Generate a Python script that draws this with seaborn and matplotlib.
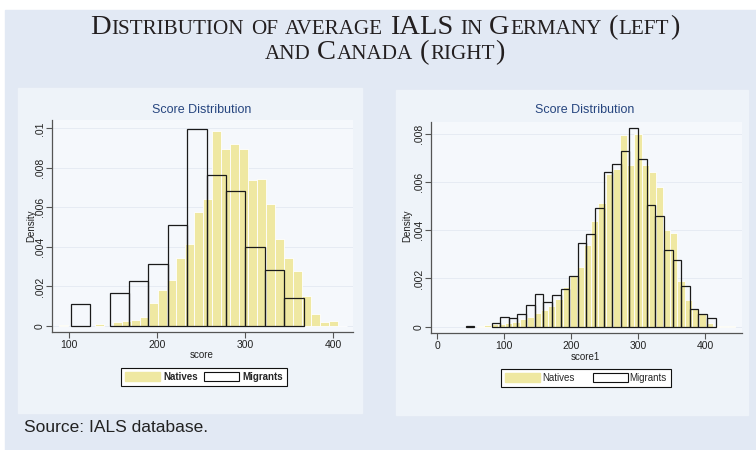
import re
import numpy as np
import pandas as pd
import seaborn as sns
import matplotlib.pyplot as plt
from matplotlib.patches import Patch, Rectangle

# Germany (left panel): densities per bin
de_nat_start, de_nat_width = 88.6, 10.2
de_natives = [0.00005, 0, 0, 0, 0.0001, 0, 0.0002, 0.00025, 0.0003, 0.00046,
              0.00115, 0.00183, 0.00234, 0.00345, 0.00416, 0.00577, 0.00641,
              0.00985, 0.00894, 0.00919, 0.00897, 0.00738, 0.00743, 0.00616,
              0.0044, 0.00345, 0.00279, 0.00154, 0.00059, 0.00022, 0.00027, 0.00002]
de_mig_start, de_mig_width = 102.3, 22.0
de_migrants = [0.00113, 0, 0.00169, 0.00228, 0.00312, 0.00511, 0.00995,
               0.00766, 0.00681, 0.00398, 0.00283, 0.0014]

# Canada (right panel)
ca_nat_start, ca_nat_width = 58.7, 10.7
ca_natives = [0.00003, 0.00007, 0.0001, 0.00012, 0.00014, 0.00018, 0.0003,
              0.00042, 0.00055, 0.00068, 0.00085, 0.00115, 0.00165, 0.00212,
              0.00246, 0.0034, 0.0044, 0.00512, 0.00634, 0.00655, 0.00793,
              0.00669, 0.008, 0.00669, 0.00641, 0.00581, 0.004, 0.00387,
              0.0019, 0.00112, 0.00075, 0.00052, 0.00015, 0.00004, 0.00002, 0.00002]
ca_mig_start, ca_mig_width = 42.5, 12.86
ca_migrants = [0.00002, 0, 0, 0.00017, 0.0004, 0.00037, 0.00053, 0.00091,
               0.00136, 0.00101, 0.00131, 0.00156, 0.0021, 0.00347, 0.00386,
               0.00494, 0.00641, 0.00673, 0.00728, 0.00825, 0.00696, 0.00505,
               0.0046, 0.00317, 0.00275, 0.00167, 0.00073, 0.00053, 0.00037]

de_xticks = [100, 200, 300, 400]
de_yticks = [0, .002, .004, .006, .008, .01]
de_ylabels = ['0', '.002', '.004', '.006', '.008', '.01']
ca_xticks = [0, 100, 200, 300, 400]
ca_yticks = [0, .002, .004, .006, .008]
ca_ylabels = ['0', '.002', '.004', '.006', '.008']

W, H = 756, 450
YELLOW = '#efe8a2'
OUTER = '#e2e9f4'
PANEL = '#eef3f9'
PLOT = '#f5f8fc'
NARROW = ['Liberation Sans Narrow', 'Liberation Sans', 'DejaVu Sans']

sns.set_style('white')
plt.rcParams['font.family'] = NARROW

fig = plt.figure(figsize=(W / 100, H / 100), dpi=100)
fig.patch.set_facecolor('white')


def fx(x):
    return x / W


def fy(y):
    return 1 - y / H


def box(x0, y0, x1, y1, color):
    fig.add_artist(Rectangle((fx(x0), fy(y1)), fx(x1 - x0), (y1 - y0) / H,
                             transform=fig.transFigure, color=color, zorder=-5))


box(5, 10, W, H, OUTER)
box(18, 88, 362, 413, PANEL)
box(396, 90, 748, 415, PANEL)


def hist(ax, start, width, heights, **kw):
    edges = start + width * np.arange(len(heights) + 1)
    df = pd.DataFrame({'x': edges[:-1] + width / 2, 'w': heights})
    n = len(ax.patches)
    sns.histplot(data=df, x='x', weights='w', bins=list(edges), ax=ax, **kw)
    for p in ax.patches[n:]:
        if p.get_height() == 0:
            p.set_visible(False)


def panel(rect, nat, mig, xticks, yticks, ylabels, xlim, ylim):
    x0, y0, x1, y1 = rect
    ax = fig.add_axes([fx(x0), fy(y1), (x1 - x0) / W, (y1 - y0) / H])
    ax.set_facecolor(PLOT)
    hist(ax, *nat, color=YELLOW, edgecolor='white', linewidth=0.6, alpha=1)
    hist(ax, *mig, fill=False, color='#1a1a1a', linewidth=0.9)
    ax.set_xlim(*xlim)
    ax.set_ylim(*ylim)
    ax.set_xticks(xticks)
    ax.set_xticklabels([str(t) for t in xticks])
    ax.set_yticks(yticks)
    ax.set_yticklabels(ylabels, rotation=90, va='center')
    ax.tick_params(length=4, width=0.8, color='#555555', labelsize=7.5,
                   labelcolor='#222222', pad=1.5, bottom=True, left=True)
    ax.tick_params(axis='y', pad=1)
    for s in ['top', 'right']:
        ax.spines[s].set_visible(False)
    for s in ['left', 'bottom']:
        ax.spines[s].set_color('#555555')
        ax.spines[s].set_linewidth(0.9)
    ax.grid(axis='y', color='#e6ebf3', linewidth=0.7)
    ax.set_axisbelow(True)
    ax.set_xlabel('')
    ax.set_ylabel('')
    return ax


ax1 = panel((52, 120, 353, 332),
            (de_nat_start, de_nat_width, de_natives),
            (de_mig_start, de_mig_width, de_migrants),
            de_xticks, de_yticks, de_ylabels, (81.1, 422.3), (-0.000303, 0.01042))
ax2 = panel((431, 122, 742, 333),
            (ca_nat_start, ca_nat_width, ca_natives),
            (ca_mig_start, ca_mig_width, ca_migrants),
            ca_xticks, ca_yticks, ca_ylabels, (-9.4, 454.8), (-0.000261, 0.008485))

# panel texts
for cx, ty, xl, xly, dx in [(202, 110, 'score', 355, 31), (585, 110, 'score1', 357, 407)]:
    fig.text(fx(cx), fy(ty), 'Score Distribution', color='#26457f', fontsize=9,
             ha='center', va='center')
    fig.text(fx(cx), fy(xly), xl, color='#222222', fontsize=7, ha='center', va='center')
    fig.text(fx(dx), fy(226), 'Density', color='#222222', fontsize=7, rotation=90,
             ha='center', va='center')

handles = [Patch(facecolor=YELLOW, edgecolor=YELLOW, label='Natives'),
           Patch(facecolor='white', edgecolor='#111111', linewidth=0.8, label='Migrants')]
for cx, cy, bold, csp, tpad in [(204, 377, True, 0.6, 0.4), (586, 378, False, 1.9, 0.2)]:
    leg = fig.legend(handles=handles, loc='center', bbox_to_anchor=(fx(cx), fy(cy)),
                     ncol=2, handlelength=3.6, handleheight=1.1,
                     handletextpad=tpad, columnspacing=csp, borderpad=0.4,
                     frameon=True, fancybox=False, edgecolor='#111111',
                     facecolor='white', framealpha=1,
                     prop={'family': NARROW, 'size': 7,
                           'weight': 'bold' if bold else 'normal'})
    leg.get_frame().set_linewidth(0.8)


def small_caps(text, y_px, cx=385, big=20.5, small=15.2):
    r = fig.canvas.get_renderer()
    pieces = []
    for b, s in re.findall(r'\[([^\]]+)\]|([^\[]+)', text):
        if b:
            pieces.append((b, big))
        else:
            for i, w in enumerate(s.split(' ')):
                if i:
                    pieces.append((None, small))
                if w:
                    pieces.append((w, small))
    arts, widths = [], []
    for s, size in pieces:
        if s is None:
            arts.append(None)
            widths.append(0.3 * size * 100 / 72)
        else:
            t = fig.text(0, fy(y_px), s, fontsize=size, family='Liberation Serif',
                         color='#231f20', va='baseline')
            arts.append(t)
            widths.append(t.get_window_extent(r).width + 0.6)
    x = cx - sum(widths) / 2
    for t, w in zip(arts, widths):
        if t is not None:
            t.set_x(fx(x))
        x += w


small_caps('[D]ISTRIBUTION OF AVERAGE [IALS] IN [G]ERMANY [(]LEFT[)]', 34)
small_caps('AND [C]ANADA [(]RIGHT[)]', 59)

fig.text(fx(24), fy(427), 'Source: IALS database.', fontsize=12.5,
         family=['Liberation Sans', 'DejaVu Sans'], color='#222222', va='center')

fig.savefig('out.png', dpi=100)
